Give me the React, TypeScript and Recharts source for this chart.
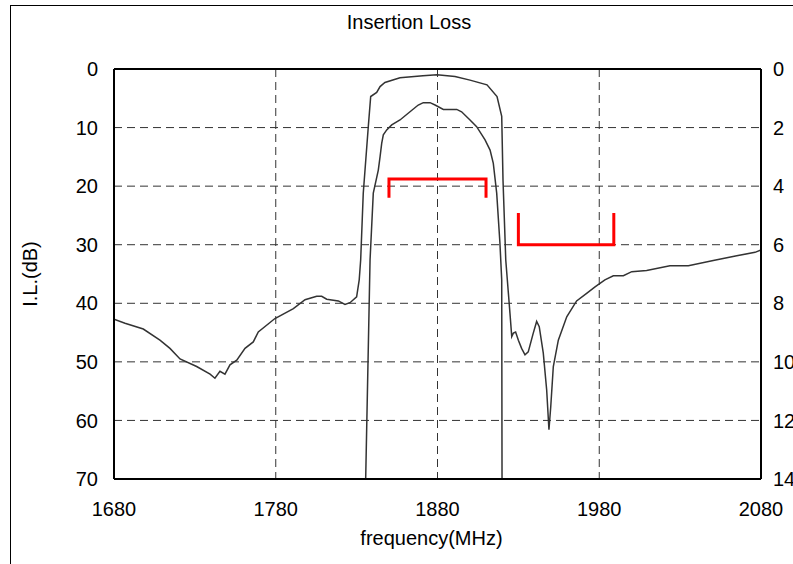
import { LineChart, Line, CartesianGrid, XAxis, YAxis, ReferenceLine } from "recharts";

// wide-span response, left axis (dB)
const wideFreq = [
  1680, 1686.8, 1698.1, 1708.4, 1714.6, 1720.8, 1731.1, 1739.4, 1742.4, 1745.5, 1748.6, 1751.7,
  1755.9, 1761, 1766.1, 1769.2, 1779.5, 1790.9, 1798.1, 1805.3, 1808.4, 1811.5, 1818.7, 1822.8,
  1825.9, 1830, 1831.6, 1832.5, 1834.1, 1837.2, 1838.7, 1842.4, 1844.5, 1847.5, 1856.8, 1871,
  1879.7, 1890.8, 1900.1, 1910.6, 1916.8, 1919.7, 1920.5, 1922.2, 1924.8, 1925.9, 1926.9, 1928.3,
  1930, 1932, 1934.1, 1936.1, 1939.2, 1941.3, 1942.9, 1945.4, 1947.5, 1948.9, 1950, 1951.6,
  1954.7, 1959.9, 1966, 1972.2, 1977.4, 1983.5, 1988.7, 1994.9, 2000.1, 2009.3, 2023.7, 2035.1,
  2050.5, 2065, 2076.3, 2080,
];
const wideLoss = [
  42.7, 43.4, 44.4, 46.3, 47.7, 49.5, 50.8, 52.1, 52.8, 51.6, 52.1, 50.5,
  49.7, 47.7, 46.6, 44.9, 42.6, 40.9, 39.4, 38.8, 38.8, 39.3, 39.6, 40.2,
  39.9, 38.9, 36, 32.6, 21.2, 9.9, 4.7, 4.0, 3.0, 2.3, 1.5, 1.15,
  1.0, 1.3, 1.9, 2.7, 4.7, 8.1, 19, 32.6, 41.7, 45.7, 45.1, 44.9,
  46.3, 47.7, 48.8, 48.3, 45.1, 43.1, 44.0, 48.5, 54.8, 61.6, 57.7, 50.8,
  46.3, 42.3, 39.6, 38.3, 37.2, 36.0, 35.3, 35.3, 34.6, 34.4, 33.6, 33.6,
  32.7, 31.9, 31.3, 30.9,
];

// expanded passband, right axis (dB)
const passFreq = [
  1835.6, 1838.3, 1840.3, 1843.4, 1844.5, 1845.5, 1846.5, 1848.6, 1851.7, 1856.8, 1863, 1868.1,
  1871.2, 1875.4, 1878.5, 1883.6, 1891.9, 1894.9, 1900.1, 1904.2, 1909.4, 1912.5, 1914.5, 1916.6,
  1918.6, 1919.7, 1919.9,
];
const passLoss = [
  14, 6.52, 4.24, 3.45, 2.99, 2.54, 2.25, 2.08, 1.91, 1.74, 1.46, 1.23,
  1.15, 1.15, 1.23, 1.38, 1.38, 1.46, 1.74, 1.97, 2.42, 2.77, 3.22, 4.24,
  5.95, 7.2, 14,
];

// spec masks (left axis)
const txMaskFreq = [1850, 1850, 1910, 1910];
const txMaskLoss = [22, 18.8, 18.8, 22];
const rxMaskFreq = [1930, 1930, 1989, 1989];
const rxMaskLoss = [24.6, 30, 30, 24.6];

const freqTicks = [1680, 1780, 1880, 1980, 2080];
const leftTicks = [0, 10, 20, 30, 40, 50, 60, 70];
const rightTicks = [0, 2, 4, 6, 8, 10, 12, 14];

const zip = (f: number[], v: number[]) => f.map((x, i) => ({ f: x, v: v[i] }));

const wideData = zip(wideFreq, wideLoss);
const passData = zip(passFreq, passLoss);
const txData = zip(txMaskFreq, txMaskLoss);
const rxData = zip(rxMaskFreq, rxMaskLoss);

const font = "'Liberation Sans', Arial, sans-serif";
const tickStyle = { fill: "#000", fontSize: 20, fontFamily: font };

export default function App() {
  return (
    <div
      style={{
        position: "fixed",
        left: 0,
        top: 0,
        width: 793,
        height: 564,
        overflow: "hidden",
        background: "#fff",
      }}
    >
      <div
        style={{
          position: "absolute",
          left: 10,
          top: 5,
          width: 800,
          height: 600,
          border: "1px solid #000",
        }}
      />
      <div style={{ position: "absolute", left: 0, top: 0 }}>
        <LineChart width={793} height={564} margin={{ top: 69, right: 0, bottom: 0, left: 0 }}>
          <CartesianGrid stroke="#333" strokeDasharray="8 5" />
          <XAxis
            dataKey="f"
            type="number"
            domain={[1680, 2080]}
            ticks={freqTicks}
            height={85}
            tickLine={false}
            tickSize={20}
            tickMargin={3}
            tick={tickStyle}
            axisLine={{ stroke: "#000", strokeWidth: 2 }}
            allowDataOverflow
          />
          <YAxis
            type="number"
            domain={[0, 70]}
            ticks={leftTicks}
            reversed
            width={114}
            tickLine={false}
            tickSize={14}
            tickMargin={2}
            tick={tickStyle}
            axisLine={{ stroke: "#000", strokeWidth: 2 }}
            allowDataOverflow
          />
          <YAxis
            yAxisId="right"
            orientation="right"
            type="number"
            domain={[0, 14]}
            ticks={rightTicks}
            reversed
            width={32}
            tickLine={false}
            tickSize={10}
            tickMargin={2}
            tick={{ ...tickStyle, textAnchor: "start" }}
            axisLine={{ stroke: "#000", strokeWidth: 2 }}
            allowDataOverflow
          />
          <ReferenceLine y={0} stroke="#000" strokeWidth={2} />
          <Line
            data={wideData}
            dataKey="v"
            type="linear"
            stroke="#333"
            strokeWidth={1.5}
            dot={false}
            isAnimationActive={false}
          />
          <Line
            data={passData}
            dataKey="v"
            yAxisId="right"
            type="linear"
            stroke="#333"
            strokeWidth={1.5}
            dot={false}
            isAnimationActive={false}
          />
          <Line
            data={txData}
            dataKey="v"
            type="linear"
            stroke="#ff0000"
            strokeWidth={3}
            dot={false}
            isAnimationActive={false}
          />
          <Line
            data={rxData}
            dataKey="v"
            type="linear"
            stroke="#ff0000"
            strokeWidth={3}
            dot={false}
            isAnimationActive={false}
          />
        </LineChart>
      </div>
      <svg
        width={793}
        height={564}
        style={{ position: "absolute", left: 0, top: 0, pointerEvents: "none" }}
      >
        <text x={409} y={29} textAnchor="middle" fontSize={20} fontFamily={font} fill="#000">
          Insertion Loss
        </text>
        <text x={431.5} y={545} textAnchor="middle" fontSize={20} fontFamily={font} fill="#000">
          frequency(MHz)
        </text>
        <text
          x={37}
          y={274}
          textAnchor="middle"
          fontSize={20}
          fontFamily={font}
          fill="#000"
          transform="rotate(-90, 37, 274)"
        >
          I.L.(dB)
        </text>
      </svg>
    </div>
  );
}
